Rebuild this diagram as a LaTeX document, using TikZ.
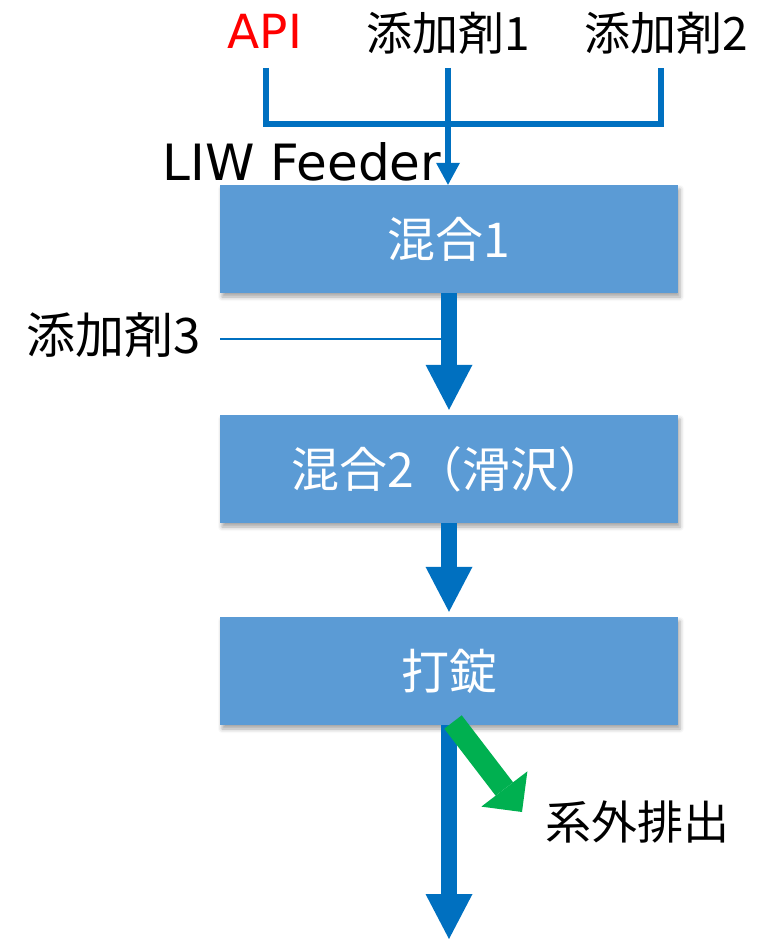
\documentclass[tikz,border=0pt]{standalone}
\usepackage{fontspec}
\setmainfont{Noto Sans CJK JP}
\newfontfamily\latinfont{DejaVu Sans}
\usetikzlibrary{arrows.meta,shadows.blur,calc}
\definecolor{boxblue}{HTML}{5B9BD5}
\definecolor{arrowblue}{HTML}{0070C0}
\definecolor{exitgreen}{HTML}{00B050}
\definecolor{apired}{HTML}{FF0000}
\begin{document}
\begin{tikzpicture}[x=1pt,y=-1pt,
  bigfont/.style={font=\fontsize{46}{50}\selectfont},
  lbl/.style={bigfont, inner sep=0pt, anchor=center},
  latinlbl/.style={font=\latinfont\fontsize{47}{50}\selectfont, inner sep=0pt, anchor=center},
  procbox/.style={fill=boxblue, minimum width=458pt, minimum height=108pt,
    inner sep=0pt, text=white, font=\fontsize{48}{52}\selectfont,
    blur shadow={shadow xshift=2pt, shadow yshift=-4pt, shadow blur radius=4pt, shadow opacity=35}},
  feedline/.style={draw=arrowblue, line width=6.5pt, line join=miter},
  feedarrow/.style={draw=arrowblue, line width=6.5pt,
    -{Triangle[width=24pt,length=22pt,line width=0pt]}},
  thinfeed/.style={draw=arrowblue, line width=2pt},
  bigarrow/.style={draw=arrowblue, line width=16pt,
    -{Triangle[width=47pt,length=45pt,line width=0pt]}},
  greenarrow/.style={draw=exitgreen, line width=22pt,
    -{Triangle[width=58pt,length=29pt,line width=0pt]}}
]
\useasboundingbox (0,0) rectangle (781,939);

% top labels
\node[latinlbl, text=apired] (api) at (265,31) {API};
\node[lbl] (add1) at (448,33) {添加剤1};
\node[lbl] (add2) at (666,33) {添加剤2};
\node[latinlbl, font=\latinfont\fontsize{50}{54}\selectfont] (liw) at (302,162) {LIW Feeder};

% process boxes
\node[procbox] (mix1) at (449,239) {混合1};
\node[procbox] (mix2) at (449,469) {混合2（滑沢）};
\node[procbox] (tab)  at (449,671) {打錠};

% side labels
\node[lbl, font=\fontsize{49}{53}\selectfont] (add3) at (114,335) {添加剤3};
\node[lbl] (reject) at (637,822) {系外排出};

% feeder collection
\coordinate (t1) at (266,68);
\coordinate (t2) at (448,68);
\coordinate (t3) at (661,68);
\coordinate (b1) at (266,124);
\coordinate (b3) at (661,124);
\draw[feedline] (t1) -- (b1) -- (b3) -- (t3);
\draw[feedarrow] (t2) -- (t2 |- mix1.north);

% additive 3 line
\coordinate (s3) at (220,339);
\coordinate (j3) at (448,339);
\draw[thinfeed] (s3) -- (j3);

% main flow
\draw[bigarrow, shorten >=5pt] (mix1.south) -- (mix2.north);
\draw[bigarrow, shorten >=5pt] (mix2.south) -- (tab.north);
\coordinate (outlet) at (449,939);
\draw[bigarrow] (tab.south) -- (outlet);

% reject
\coordinate (gs) at (453,722);
\coordinate (ge) at (522,812);
\draw[greenarrow] (gs) -- (ge);
\end{tikzpicture}
\end{document}
